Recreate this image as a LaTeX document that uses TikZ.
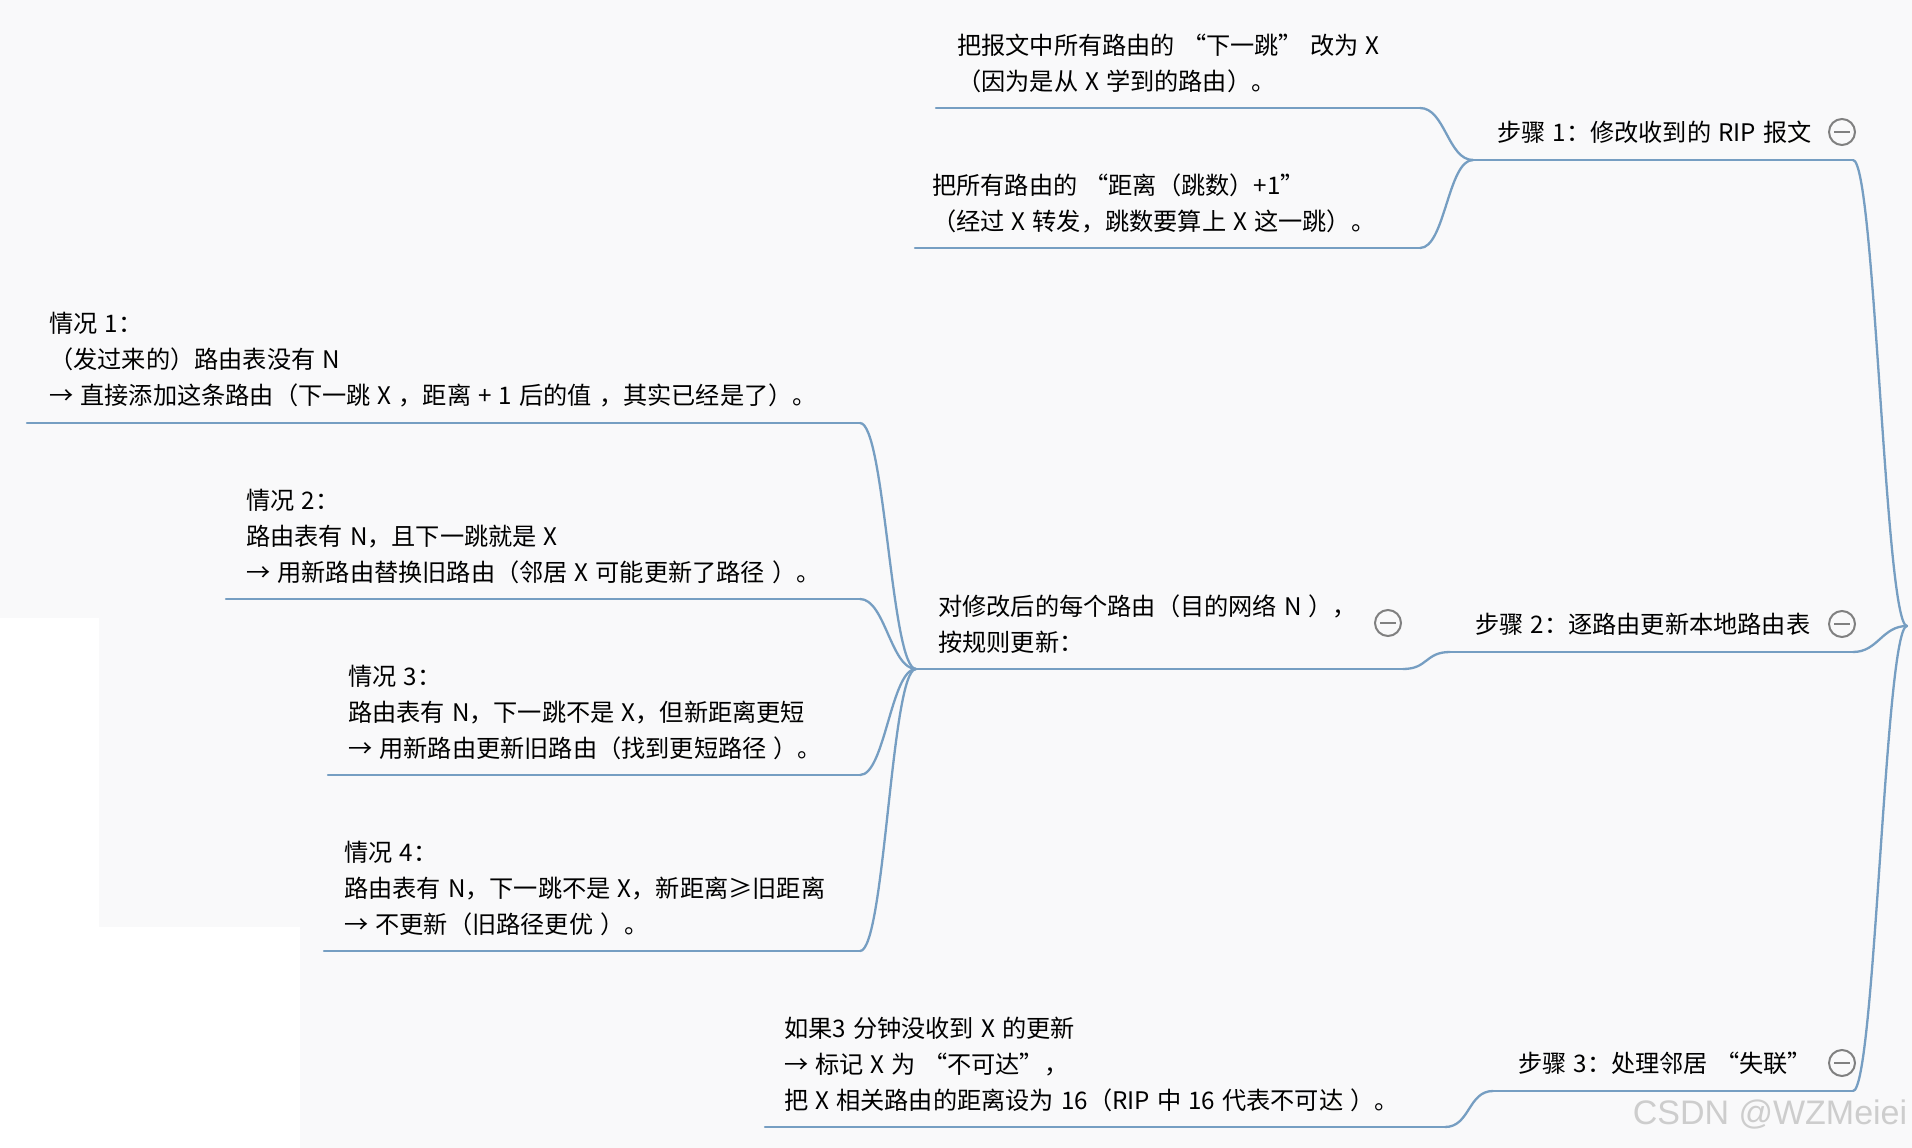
\documentclass[tikz,border=0pt]{standalone}
\usepackage{fontspec}
\setmainfont[WordSpace=1.3]{Noto Sans CJK SC}
\newfontfamily\wmfont{Liberation Sans}
\definecolor{bg}{RGB}{249,249,250}
\definecolor{edge}{RGB}{118,158,194}
\definecolor{ring}{RGB}{128,128,128}
\definecolor{wm}{RGB}{205,205,205}
\begin{document}
\begin{tikzpicture}[x=1pt,y=-1pt,
  topic/.style={anchor=west,inner sep=0pt,align=left,text=black,font=\fontsize{24.2}{36}\selectfont},
  uline/.style={draw=edge,line width=2.3pt,line cap=round},
  link/.style={draw=edge,line width=2.3pt,line cap=round},
  icon/.style={circle,draw=ring,fill=bg,line width=2pt,minimum size=26pt,inner sep=0pt}]
\useasboundingbox (0,0) rectangle (1912,1148);
\fill[bg] (0,0) rectangle (1912,1148);
\fill[white] (0,618) rectangle (99,1148);
\fill[white] (0,927) rectangle (300,1148);

\coordinate (root) at (1907,626);

% Step 1
\node[topic] (s1) at (1497,132) {步骤 1：修改收到的 RIP 报文};
\node[icon] (s1c) at (1842,132) {\textcolor{ring}{\rule{16pt}{2pt}}};
\coordinate (s1L) at (1473,160); \coordinate (s1R) at (1853,160);
\draw[uline] (s1L) -- (s1R);
\draw[link] (s1R) .. controls +(22,0) and +(-22,0) .. (root);

\node[topic] (c1a) at (957,63) {把报文中所有路由的 “下一跳” 改为 X\\（因为是从 X 学到的路由）。};
\coordinate (c1aL) at (936,108); \coordinate (c1aR) at (1420,108);
\draw[uline] (c1aL) -- (c1aR);
\draw[link] (c1aR) .. controls +(25,0) and +(-25,0) .. (s1L);

\node[topic] (c1b) at (932,203) {把所有路由的 “距离（跳数）+1”\\（经过 X 转发，跳数要算上 X 这一跳）。};
\coordinate (c1bL) at (915,248); \coordinate (c1bR) at (1420,248);
\draw[uline] (c1bL) -- (c1bR);
\draw[link] (c1bR) .. controls +(25,0) and +(-25,0) .. (s1L);

% Step 2
\node[topic] (s2) at (1475,624) {步骤 2：逐路由更新本地路由表};
\node[icon] (s2c) at (1842,624) {\textcolor{ring}{\rule{16pt}{2pt}}};
\coordinate (s2L) at (1450,652); \coordinate (s2R) at (1853,652);
\draw[uline] (s2L) -- (s2R);
\draw[link] (s2R) .. controls +(25,0) and +(-25,0) .. (root);

\node[topic] (c2) at (938,624) {对修改后的每个路由（目的网络 N ），\\按规则更新：};
\node[icon] (c2c) at (1388,623) {\textcolor{ring}{\rule{16pt}{2pt}}};
\coordinate (c2L) at (916,669); \coordinate (c2R) at (1403,669);
\draw[uline] (c2L) -- (c2R);
\draw[link] (c2R) .. controls +(25,0) and +(-25,0) .. (s2L);

\node[topic] (k1) at (49,360) {情况 1：\\（发过来的）路由表没有 N\\→ 直接添加这条路由（下一跳 X ，距离 + 1 后的值 ，其实已经是了）。};
\coordinate (k1L) at (27,423); \coordinate (k1R) at (860,423);
\draw[uline] (k1L) -- (k1R);
\draw[link] (k1R) .. controls +(25,0) and +(-25,0) .. (c2L);

\node[topic] (k2) at (246,536) {情况 2：\\路由表有 N，且下一跳就是 X\\→ 用新路由替换旧路由（邻居 X 可能更新了路径 ）。};
\coordinate (k2L) at (226,599); \coordinate (k2R) at (860,599);
\draw[uline] (k2L) -- (k2R);
\draw[link] (k2R) .. controls +(25,0) and +(-25,0) .. (c2L);

\node[topic] (k3) at (348,712) {情况 3：\\路由表有 N，下一跳不是 X，但新距离更短\\→ 用新路由更新旧路由（找到更短路径 ）。};
\coordinate (k3L) at (328,775); \coordinate (k3R) at (860,775);
\draw[uline] (k3L) -- (k3R);
\draw[link] (k3R) .. controls +(25,0) and +(-25,0) .. (c2L);

\node[topic] (k4) at (344,888) {情况 4：\\路由表有 N，下一跳不是 X，新距离≥旧距离\\→ 不更新（旧路径更优 ）。};
\coordinate (k4L) at (324,951); \coordinate (k4R) at (860,951);
\draw[uline] (k4L) -- (k4R);
\draw[link] (k4R) .. controls +(25,0) and +(-25,0) .. (c2L);

% Step 3
\node[topic] (s3) at (1518,1063) {步骤 3：处理邻居 “失联”};
\node[icon] (s3c) at (1842,1063) {\textcolor{ring}{\rule{16pt}{2pt}}};
\coordinate (s3L) at (1493,1091); \coordinate (s3R) at (1853,1091);
\draw[uline] (s3L) -- (s3R);
\draw[link] (s3R) .. controls +(22,0) and +(-22,0) .. (root);

\node[topic] (c3) at (784,1064) {如果3 分钟没收到 X 的更新\\→ 标记 X 为 “不可达”，\\把 X 相关路由的距离设为 16（RIP 中 16 代表不可达 ）。};
\coordinate (c3L) at (765,1127); \coordinate (c3R) at (1445,1127);
\draw[uline] (c3L) -- (c3R);
\draw[link] (c3R) .. controls +(25,0) and +(-25,0) .. (s3L);

% watermark
\node[inner sep=0pt,text=wm,font=\wmfont\fontsize{34}{40}\selectfont] (wm) at (1770,1115) {CSDN @WZMeiei};
\end{tikzpicture}
\end{document}
